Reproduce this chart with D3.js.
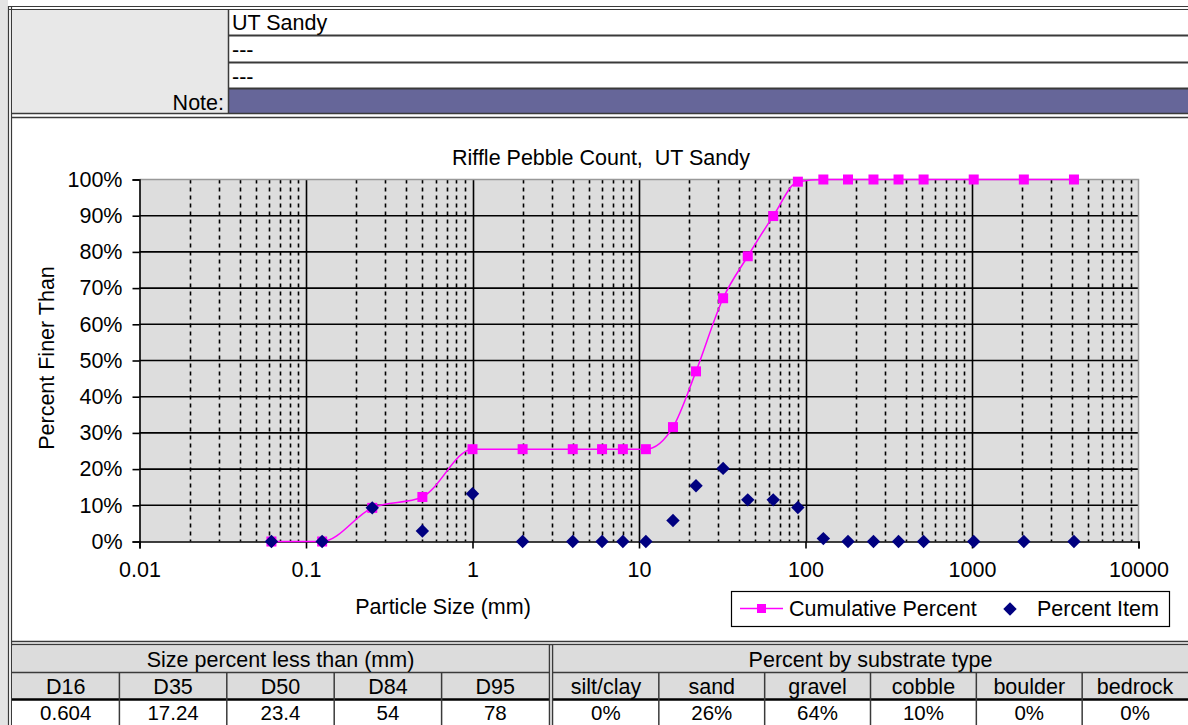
<!DOCTYPE html>
<html>
<head>
<meta charset="utf-8">
<script src="https://cdn.jsdelivr.net/npm/d3@7"></script>
<style>
  body { margin: 0; background: #fff; }
  svg { display: block; font-family: "Liberation Sans", Arial, sans-serif; }
</style>
</head>
<body>
<div id="chart"></div>
<script>
// Data
var sizes = [0.062, 0.125, 0.25, 0.5, 1, 2, 4, 6, 8, 11, 16, 22, 32, 45, 64, 90, 128, 180, 256, 362, 512, 1024, 2048, 4096];
var cumPct = [0, 0, 9.3, 12.3, 25.5, 25.5, 25.5, 25.5, 25.5, 25.5, 31.6, 47.0, 67.2, 78.8, 89.9, 99.4, 100, 100, 100, 100, 100, 100, 100, 100];
var itemPct = [0, 0, 9.3, 2.9, 13.2, 0, 0, 0, 0, 0, 5.8, 15.4, 20.2, 11.5, 11.5, 9.4, 0.8, 0, 0, 0, 0, 0, 0, 0];
var xTicks = [0.01, 0.1, 1, 10, 100, 1000, 10000];
var yTicks = [0, 10, 20, 30, 40, 50, 60, 70, 80, 90, 100];
var headerRows = ["UT Sandy", "---", "---"];
var sizeLabels = ["D16", "D35", "D50", "D84", "D95"];
var sizeValues = ["0.604", "17.24", "23.4", "54", "78"];
var typeLabels = ["silt/clay", "sand", "gravel", "cobble", "boulder", "bedrock"];
var typeValues = ["0%", "26%", "64%", "10%", "0%", "0%"];

var W = 1188, H = 725;
var fs = 21.5;
var svg = d3.select("#chart").append("svg")
    .attr("width", W).attr("height", H);

var dark = "#3a3a3a";

// ---- outer frame
svg.append("rect").attr("x", 0).attr("y", 0).attr("width", 8).attr("height", H).attr("fill", "#e4e4e4");
[8.5, 11.5].forEach(function(x) {
  svg.append("line").attr("x1", x).attr("x2", x).attr("y1", 6).attr("y2", H)
     .attr("stroke", dark).attr("stroke-width", 1.2);
});
[6.5, 9.5].forEach(function(y) {
  svg.append("line").attr("x1", 8).attr("x2", W).attr("y1", y).attr("y2", y)
     .attr("stroke", dark).attr("stroke-width", 1.2);
});

// ---- header block
var hdr = svg.append("g");
hdr.append("rect").attr("x", 12).attr("y", 10).attr("width", 216).attr("height", 103).attr("fill", "#e8e8e8");
hdr.append("rect").attr("x", 229).attr("y", 89).attr("width", W - 229).attr("height", 24).attr("fill", "#666699");
[35.5, 62.5, 88.5].forEach(function(y) {
  hdr.append("line").attr("x1", 228).attr("x2", W).attr("y1", y).attr("y2", y)
     .attr("stroke", dark).attr("stroke-width", 2);
});
hdr.append("line").attr("x1", 228.5).attr("x2", 228.5).attr("y1", 10).attr("y2", 113)
   .attr("stroke", dark).attr("stroke-width", 1.5);
hdr.selectAll("text.hrow").data(headerRows).enter().append("text")
   .attr("class", "hrow")
   .attr("x", 232).attr("y", function(d, i) { return 30 + i * 27; })
   .attr("font-size", fs).attr("fill", "#000")
   .text(function(d) { return d; });
hdr.append("text").attr("x", 224).attr("y", 110).attr("text-anchor", "end")
   .attr("font-size", fs).text("Note:");

// separator between header and chart
[113.5, 117.5].forEach(function(y) {
  svg.append("line").attr("x1", 11).attr("x2", W).attr("y1", y).attr("y2", y)
     .attr("stroke", dark).attr("stroke-width", 1.5);
});
// separator between chart and tables
[641.5, 644.5].forEach(function(y) {
  svg.append("line").attr("x1", 11).attr("x2", W).attr("y1", y).attr("y2", y)
     .attr("stroke", dark).attr("stroke-width", 1.5);
});

// ---- chart
var x = d3.scaleLog().domain([0.01, 10000]).range([139.5, 1138.5]);
var y = d3.scaleLinear().domain([0, 100]).range([541.5, 179.5]);

var plot = svg.append("g");
plot.append("rect").attr("x", x(0.01)).attr("y", y(100))
    .attr("width", x(10000) - x(0.01)).attr("height", y(0) - y(100))
    .attr("fill", "#dddddd");

// minor (dashed) and major vertical gridlines
var allTicks = x.ticks();
var minor = allTicks.filter(function(d) { return xTicks.indexOf(d) < 0; });
plot.selectAll("line.minor").data(minor).enter().append("line")
    .attr("class", "minor")
    .attr("x1", function(d) { return Math.round(x(d)) + 0.5; })
    .attr("x2", function(d) { return Math.round(x(d)) + 0.5; })
    .attr("y1", y(100)).attr("y2", y(0))
    .attr("stroke", "#000").attr("stroke-width", 1.6)
    .attr("stroke-dasharray", "4,4");
plot.selectAll("line.major").data(xTicks.slice(1, -1)).enter().append("line")
    .attr("class", "major")
    .attr("x1", function(d) { return Math.round(x(d)) + 0.5; })
    .attr("x2", function(d) { return Math.round(x(d)) + 0.5; })
    .attr("y1", y(100)).attr("y2", y(0))
    .attr("stroke", "#000").attr("stroke-width", 1.6);
plot.selectAll("line.hgrid").data(yTicks.slice(1, -1)).enter().append("line")
    .attr("class", "hgrid")
    .attr("x1", x(0.01)).attr("x2", x(10000))
    .attr("y1", function(d) { return y(d); }).attr("y2", function(d) { return y(d); })
    .attr("stroke", "#000").attr("stroke-width", 1.6);
// gray plot border top / right
plot.append("path")
    .attr("d", "M" + x(0.01) + "," + y(100) + "H" + x(10000) + "V" + y(0))
    .attr("fill", "none").attr("stroke", "#999").attr("stroke-width", 1.5);

// axes
var yAxis = plot.append("g").attr("transform", "translate(" + x(0.01) + ",0)")
    .call(d3.axisLeft(y).tickValues(yTicks).tickSize(7).tickPadding(10)
      .tickFormat(function(d) { return d + "%"; }));
var xAxis = plot.append("g").attr("transform", "translate(0," + y(0) + ")")
    .call(d3.axisBottom(x).tickValues(xTicks).tickSize(7).tickPadding(13)
      .tickFormat(d3.format("~g")));
[yAxis, xAxis].forEach(function(a) {
  a.selectAll("path.domain").attr("stroke", "#000").attr("stroke-width", 1.6);
  a.selectAll(".tick line").attr("stroke", "#000").attr("stroke-width", 1.6);
  a.selectAll("text").attr("font-size", fs).attr("fill", "#000")
   .attr("font-family", "Liberation Sans, Arial, sans-serif");
});

// cumulative line (smoothed) + squares
var pts = sizes.map(function(s, i) { return { s: s, c: cumPct[i], p: itemPct[i] }; });
var line = d3.line()
    .x(function(d) { return x(d.s); })
    .y(function(d) { return y(d.c); })
    .curve(d3.curveMonotoneX);
plot.append("path").datum(pts).attr("d", line)
    .attr("fill", "none").attr("stroke", "#ff00ff").attr("stroke-width", 1.5);
plot.selectAll("rect.cum").data(pts).enter().append("rect")
    .attr("class", "cum")
    .attr("x", function(d) { return x(d.s) - 5; })
    .attr("y", function(d) { return y(d.c) - 5; })
    .attr("width", 10).attr("height", 10)
    .attr("fill", "#ff00ff");
var diamond = d3.symbol().type(d3.symbolSquare).size(90);
plot.selectAll("path.item").data(pts).enter().append("path")
    .attr("class", "item")
    .attr("d", diamond)
    .attr("transform", function(d) { return "translate(" + x(d.s) + "," + y(d.p) + ") rotate(45)"; })
    .attr("fill", "#000080");

// titles
svg.append("text").attr("x", 601).attr("y", 165).attr("text-anchor", "middle")
   .attr("font-size", fs).style("white-space", "pre")
   .text("Riffle Pebble Count,  UT Sandy");
svg.append("text").attr("transform", "translate(54,358) rotate(-90)")
   .attr("text-anchor", "middle").attr("font-size", fs)
   .text("Percent Finer Than");
svg.append("text").attr("x", 443).attr("y", 614).attr("text-anchor", "middle")
   .attr("font-size", fs).text("Particle Size (mm)");

// legend
var lg = svg.append("g").attr("transform", "translate(731,591)");
lg.append("rect").attr("x", 0.5).attr("y", 0.5).attr("width", 438).attr("height", 35)
  .attr("fill", "#fff").attr("stroke", "#000").attr("stroke-width", 1.2);
lg.append("line").attr("x1", 9).attr("x2", 52).attr("y1", 17.5).attr("y2", 17.5)
  .attr("stroke", "#ff00ff").attr("stroke-width", 1.5);
lg.append("rect").attr("x", 26).attr("y", 13).attr("width", 9).attr("height", 9).attr("fill", "#ff00ff");
lg.append("text").attr("x", 58).attr("y", 25).attr("font-size", fs).text("Cumulative Percent");
lg.append("path").attr("d", diamond).attr("transform", "translate(279,18) rotate(45)").attr("fill", "#000080");
lg.append("text").attr("x", 306).attr("y", 25).attr("font-size", fs).text("Percent Item");

// ---- bottom tables
function table(x0, x1, title, labels, values) {
  var g = svg.append("g");
  var n = labels.length, cw = (x1 - x0) / n;
  g.append("rect").attr("x", x0).attr("y", 646).attr("width", x1 - x0).attr("height", 54).attr("fill", "#dcdcdc");
  g.append("rect").attr("x", x0).attr("y", 700).attr("width", x1 - x0).attr("height", 25).attr("fill", "#fff");
  g.append("line").attr("x1", x0).attr("x2", x1).attr("y1", 672.5).attr("y2", 672.5)
   .attr("stroke", dark).attr("stroke-width", 1.5);
  g.append("line").attr("x1", x0).attr("x2", x1).attr("y1", 699.5).attr("y2", 699.5)
   .attr("stroke", "#000").attr("stroke-width", 2.5);
  for (var i = 1; i < n; i++) {
    g.append("line").attr("x1", x0 + i * cw).attr("x2", x0 + i * cw).attr("y1", 673).attr("y2", H)
     .attr("stroke", dark).attr("stroke-width", 1.5);
  }
  g.append("text").attr("x", (x0 + x1) / 2).attr("y", 667).attr("text-anchor", "middle")
   .attr("font-size", fs).text(title);
  g.selectAll("text.lab").data(labels).enter().append("text").attr("class", "lab")
   .attr("x", function(d, i) { return x0 + (i + 0.5) * cw; }).attr("y", 694)
   .attr("text-anchor", "middle").attr("font-size", fs).text(function(d) { return d; });
  g.selectAll("text.val").data(values).enter().append("text").attr("class", "val")
   .attr("x", function(d, i) { return x0 + (i + 0.5) * cw; }).attr("y", 720)
   .attr("text-anchor", "middle").attr("font-size", 20.5).text(function(d) { return d; });
}
table(12, 549, "Size percent less than (mm)", sizeLabels, sizeValues);
table(553, W, "Percent by substrate type", typeLabels, typeValues);
[549.5, 552.5].forEach(function(xx) {
  svg.append("line").attr("x1", xx).attr("x2", xx).attr("y1", 645).attr("y2", H)
     .attr("stroke", dark).attr("stroke-width", 1.5);
});
</script>
</body>
</html>
